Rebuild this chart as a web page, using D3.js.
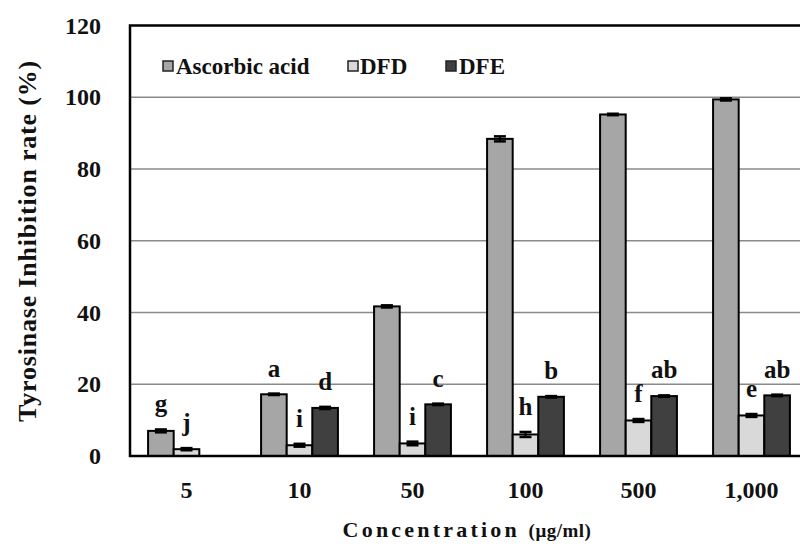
<!DOCTYPE html>
<html>
<head>
<meta charset="utf-8">
<script src="https://cdn.jsdelivr.net/npm/d3@7"></script>
<style>
  html, body { margin: 0; padding: 0; background: #fff; }
  svg { display: block; }
</style>
</head>
<body>
<svg id="chart" width="800" height="548"></svg>
<script>
// ---- data ----
const categories = ["5", "10", "50", "100", "500", "1,000"];
const seriesNames = ["Ascorbic acid", "DFD", "DFE"];
const ascorbicValues = [7.0, 17.2, 41.7, 88.4, 95.2, 99.4];
const dfdValues = [1.9, 3.0, 3.5, 6.0, 9.9, 11.3];
const dfeValues = [0, 13.4, 14.4, 16.5, 16.7, 16.9];
const ascorbicErrors = [0.4, 0.2, 0.3, 0.7, 0.2, 0.3];
const dfdErrors = [0.3, 0.4, 0.5, 0.7, 0.4, 0.4];
const dfeErrors = [0, 0.3, 0.2, 0.2, 0.2, 0.2];
const ascorbicLetters = ["g", "a", "", "", "", ""];
const dfdLetters = ["j", "i", "i", "h", "f", "e"];
const dfeLetters = ["", "d", "c", "b", "ab", "ab"];
const yTicks = [0, 20, 40, 60, 80, 100, 120];

const seriesValues = [ascorbicValues, dfdValues, dfeValues];
const seriesErrors = [ascorbicErrors, dfdErrors, dfeErrors];
const seriesLetters = [ascorbicLetters, dfdLetters, dfeLetters];
const colors = ["#a6a6a6", "#d9d9d9", "#404040"];

const FONT = '"Liberation Serif"';
function styleText(sel, size) {
  sel.style("font-family", FONT)
     .style("font-weight", "bold")
     .style("font-size", size + "px")
     .style("fill", "#111");
  return sel;
}

// ---- layout ----
const svg = d3.select("#chart");
const pLeft = 130, pRight = 808, pTop = 25.5, pBottom = 456;

const x = d3.scaleBand().domain(categories).range([pLeft, pRight])
  .paddingInner(0.32).paddingOuter(0.16);
const xs = d3.scaleBand().domain(seriesNames).range([0, x.bandwidth()]).padding(0);
const y = d3.scaleLinear().domain([0, 120]).range([pBottom, pTop]);

// gridlines
svg.append("g")
  .selectAll("line")
  .data(yTicks.filter(t => t > 0 && t < 120))
  .join("line")
  .attr("x1", pLeft).attr("x2", pRight)
  .attr("y1", d => y(d)).attr("y2", d => y(d))
  .attr("stroke", "#8a8a8a").attr("stroke-width", 1.6);

// y tick labels via axis
const yAxis = svg.append("g")
  .attr("transform", `translate(${pLeft},0)`)
  .call(d3.axisLeft(y).tickValues(yTicks).tickSize(0).tickPadding(29));
yAxis.attr("font-family", null).attr("font-size", null);
yAxis.select(".domain").remove();
styleText(yAxis.selectAll("text"), 24);

// x tick labels via axis
const xAxis = svg.append("g")
  .attr("transform", `translate(0,${pBottom})`)
  .call(d3.axisBottom(x).tickSize(0).tickPadding(25));
xAxis.attr("font-family", null).attr("font-size", null);
xAxis.select(".domain").remove();
styleText(xAxis.selectAll("text"), 24);

// bars
const groups = svg.append("g")
  .selectAll("g")
  .data(categories)
  .join("g")
  .attr("transform", d => `translate(${x(d)},0)`);

seriesNames.forEach((s, si) => {
  groups.each(function(cat, ci) {
    const v = seriesValues[si][ci];
    const e = seriesErrors[si][ci];
    const g = d3.select(this);
    const bx = xs(s);
    const bw = xs.bandwidth();
    if (v > 0) {
      g.append("rect")
        .attr("x", bx).attr("y", y(v))
        .attr("width", bw).attr("height", y(0) - y(v))
        .attr("fill", colors[si])
        .attr("stroke", "#000").attr("stroke-width", 2);
    }
    if (e > 0) {
      const cx = bx + bw / 2;
      g.append("line")
        .attr("x1", cx).attr("x2", cx)
        .attr("y1", y(v - e)).attr("y2", y(v + e))
        .attr("stroke", "#000").attr("stroke-width", 2);
      [v - e, v + e].forEach(t => {
        g.append("line")
          .attr("x1", cx - 6).attr("x2", cx + 6)
          .attr("y1", y(t)).attr("y2", y(t))
          .attr("stroke", "#000").attr("stroke-width", 2.5);
      });
    }
    const lab = seriesLetters[si][ci];
    if (lab) {
      styleText(g.append("text"), 25)
        .attr("x", bx + bw / 2)
        .attr("y", y(v + e) - 17)
        .attr("text-anchor", "middle")
        .text(lab);
    }
  });
});

// plot frame
svg.append("rect")
  .attr("x", pLeft).attr("y", pTop)
  .attr("width", pRight - pLeft).attr("height", pBottom - pTop)
  .attr("fill", "none").attr("stroke", "#000").attr("stroke-width", 2.5);

// legend
const legendPos = [{sx: 163, tx: 176}, {sx: 348, tx: 360}, {sx: 446, tx: 459}];
const legend = svg.append("g");
seriesNames.forEach((s, i) => {
  legend.append("rect")
    .attr("x", legendPos[i].sx).attr("y", 61)
    .attr("width", 10).attr("height", 10)
    .attr("fill", colors[i]).attr("stroke", "#222").attr("stroke-width", 1.5);
  styleText(legend.append("text"), 23)
    .attr("x", legendPos[i].tx).attr("y", 74)
    .text(s);
});

// axis titles
styleText(svg.append("text"), 26)
  .attr("transform", `translate(36,241) rotate(-90)`)
  .attr("text-anchor", "middle")
  .style("letter-spacing", "0.8px")
  .text("Tyrosinase Inhibition rate (%)");

const xt = styleText(svg.append("text"), 22)
  .attr("x", 467).attr("y", 537)
  .attr("text-anchor", "middle");
xt.append("tspan").style("font-size", "22px").style("letter-spacing", "3.2px").text("Concentration ");
xt.append("tspan").style("font-size", "19px").style("letter-spacing", "0.5px").text("(μg/ml)");
</script>
</body>
</html>
